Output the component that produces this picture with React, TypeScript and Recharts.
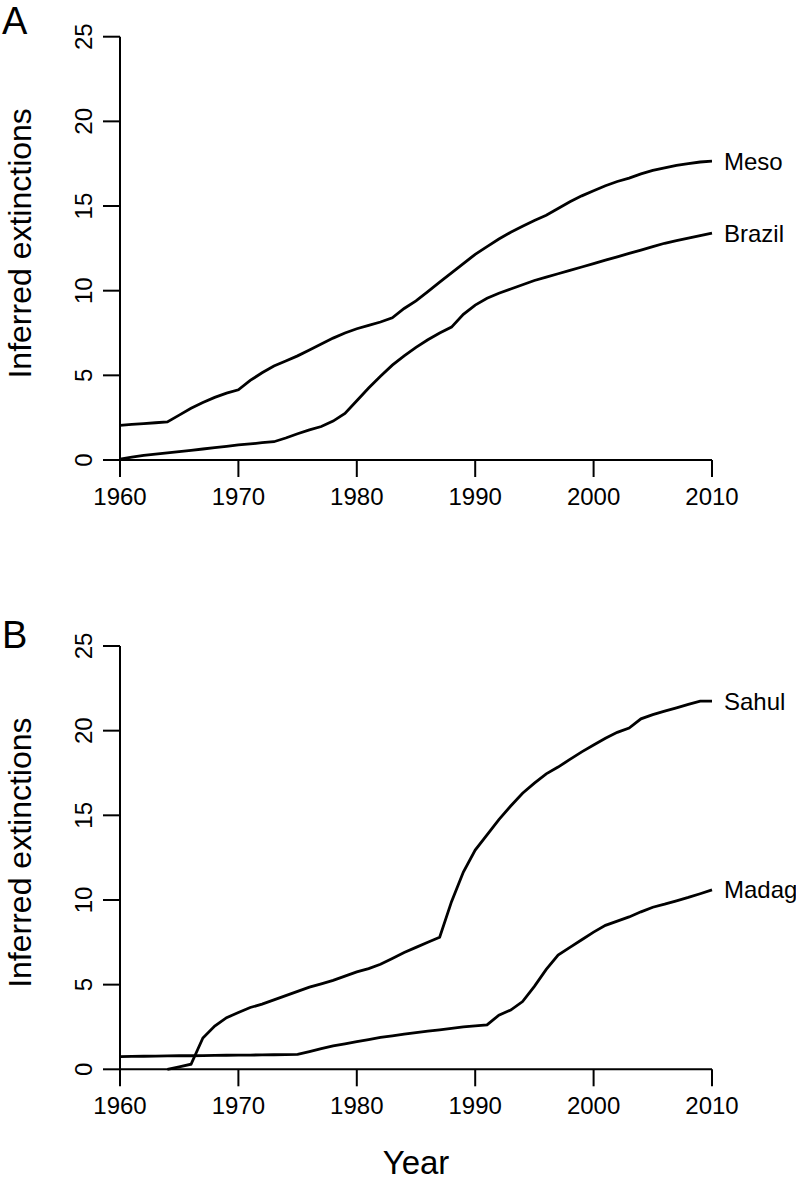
import { LineChart, Line, XAxis, YAxis } from "recharts";

const years = [
  1960, 1961, 1962, 1963, 1964, 1965, 1966, 1967, 1968, 1969,
  1970, 1971, 1972, 1973, 1974, 1975, 1976, 1977, 1978, 1979,
  1980, 1981, 1982, 1983, 1984, 1985, 1986, 1987, 1988, 1989,
  1990, 1991, 1992, 1993, 1994, 1995, 1996, 1997, 1998, 1999,
  2000, 2001, 2002, 2003, 2004, 2005, 2006, 2007, 2008, 2009, 2010,
];

// panel A
const meso = [
  2.05, 2.1, 2.15, 2.2, 2.25, 2.65, 3.05, 3.4, 3.7, 3.95,
  4.15, 4.7, 5.15, 5.55, 5.85, 6.15, 6.5, 6.85, 7.2, 7.5,
  7.75, 7.95, 8.15, 8.4, 8.95, 9.4, 9.95, 10.5, 11.05, 11.6,
  12.15, 12.6, 13.05, 13.45, 13.8, 14.15, 14.45, 14.85, 15.25, 15.6,
  15.9, 16.2, 16.45, 16.65, 16.9, 17.1, 17.25, 17.4, 17.5, 17.6, 17.65,
];
const brazil = [
  0.05, 0.17, 0.27, 0.35, 0.42, 0.5, 0.57, 0.65, 0.73, 0.81,
  0.89, 0.95, 1.02, 1.08, 1.3, 1.55, 1.78, 1.98, 2.3, 2.75,
  3.5, 4.25, 4.95, 5.6, 6.15, 6.65, 7.1, 7.5, 7.85, 8.6,
  9.15, 9.55, 9.85, 10.1, 10.35, 10.6, 10.8, 11.0, 11.2, 11.4,
  11.6, 11.8, 12.0, 12.2, 12.4, 12.6, 12.8, 12.95, 13.1, 13.25, 13.4,
];

// panel B
const sahul = [
  null, null, null, null, 0, 0.15, 0.3, 1.85, 2.55, 3.05,
  3.35, 3.65, 3.85, 4.1, 4.35, 4.6, 4.85, 5.05, 5.25, 5.5,
  5.75, 5.95, 6.2, 6.55, 6.9, 7.2, 7.5, 7.8, 9.9, 11.65,
  12.95, 13.85, 14.75, 15.55, 16.3, 16.9, 17.45, 17.85, 18.3, 18.75,
  19.15, 19.55, 19.9, 20.15, 20.7, 20.95, 21.15, 21.35, 21.55, 21.75, 21.75,
];
const madag = [
  0.75, 0.76, 0.77, 0.78, 0.79, 0.8, 0.8, 0.81, 0.82, 0.83,
  0.84, 0.84, 0.85, 0.86, 0.87, 0.88, 1.05, 1.22, 1.38, 1.5,
  1.63, 1.75, 1.88, 1.98, 2.08, 2.17, 2.25, 2.33, 2.42, 2.5,
  2.56, 2.62, 3.2, 3.5, 4.0, 4.9, 5.9, 6.75, 7.2, 7.65,
  8.1, 8.5, 8.75, 9.0, 9.3, 9.57, 9.75, 9.95, 10.15, 10.37, 10.6,
];

const xTicks = [1960, 1970, 1980, 1990, 2000, 2010];
const yTicks = [0, 5, 10, 15, 20, 25];

const FONT = "'Liberation Sans', Arial, Helvetica, sans-serif";

const dataA = years.map((year, i) => ({ year, meso: meso[i], brazil: brazil[i] }));
const dataB = years.map((year, i) => ({ year, sahul: sahul[i], madag: madag[i] }));

const YTick = ({ x, y, payload }: any) => (
  <text
    x={x}
    y={y}
    transform={`rotate(-90 ${x} ${y})`}
    textAnchor="middle"
    fontSize={24}
    fontFamily={FONT}
    fill="#000"
  >
    {payload.value}
  </text>
);

const XTick = ({ x, y, payload }: any) => (
  <text x={x} y={y} dy={18} textAnchor="middle" fontSize={24} fontFamily={FONT} fill="#000">
    {payload.value}
  </text>
);

const yTitle = ({ viewBox }: any) => {
  const cx = 31;
  const cy = viewBox.y + viewBox.height / 2 - 5;
  return (
    <text x={cx} y={cy} transform={`rotate(-90 ${cx} ${cy})`} textAnchor="middle" fontSize={32} fontFamily={FONT} fill="#000">
      Inferred extinctions
    </text>
  );
};

const xTitle = ({ viewBox }: any) => (
  <text x={viewBox.x + viewBox.width / 2} y={viewBox.y + 105} textAnchor="middle" fontSize={33} fontFamily={FONT} fill="#000">
    Year
  </text>
);

const endLabel = (name: string) => (props: any) => {
  if (props.index !== years.length - 1) return null;
  return (
    <text x={props.x + 12} y={props.y} dominantBaseline="central" fontSize={24} fontFamily={FONT} fill="#000">
      {name}
    </text>
  );
};

function Panel({ data, keys, names, height, margin, showYear }: any) {
  return (
    <LineChart width={796} height={height} data={data} margin={margin}>
      <XAxis
        dataKey="year"
        type="number"
        domain={[1960, 2010]}
        ticks={xTicks}
        height={60}
        tickSize={17}
        tickMargin={10}
        tick={<XTick />}
        axisLine={{ stroke: "#000", strokeWidth: 2 }}
        tickLine={{ stroke: "#000", strokeWidth: 2 }}
        label={showYear ? { content: xTitle } : undefined}
      />
      <YAxis
        type="number"
        domain={[0, 25]}
        ticks={yTicks}
        width={120}
        tickSize={17}
        tickMargin={11}
        tick={<YTick />}
        axisLine={{ stroke: "#000", strokeWidth: 2 }}
        tickLine={{ stroke: "#000", strokeWidth: 2 }}
        label={{ content: yTitle }}
      />
      {keys.map((k: string, i: number) => (
        <Line
          key={k}
          dataKey={k}
          type="linear"
          stroke="#000"
          strokeWidth={2.8}
          dot={false}
          activeDot={false}
          isAnimationActive={false}
          label={endLabel(names[i])}
        />
      ))}
    </LineChart>
  );
}

export default function App() {
  return (
    <div style={{ position: "absolute", left: 0, top: 0, width: 796, height: 1192, background: "#fff", fontFamily: FONT }}>
      <div style={{ position: "absolute", left: 0, top: 0 }}>
        <Panel
          data={dataA}
          keys={["meso", "brazil"]}
          names={["Meso", "Brazil"]}
          height={560}
          margin={{ top: 36.7, right: 84, bottom: 40, left: 0 }}
        />
      </div>
      <div style={{ position: "absolute", left: 0, top: 600 }}>
        <Panel
          data={dataB}
          keys={["sahul", "madag"]}
          names={["Sahul", "Madag"]}
          height={592}
          margin={{ top: 46, right: 84, bottom: 62.7, left: 0 }}
          showYear
        />
      </div>
      <div style={{ position: "absolute", left: 2, top: 2, fontSize: 38, lineHeight: "38px", color: "#000" }}>A</div>
      <div style={{ position: "absolute", left: 2, top: 616, fontSize: 38, lineHeight: "38px", color: "#000" }}>B</div>
    </div>
  );
}
